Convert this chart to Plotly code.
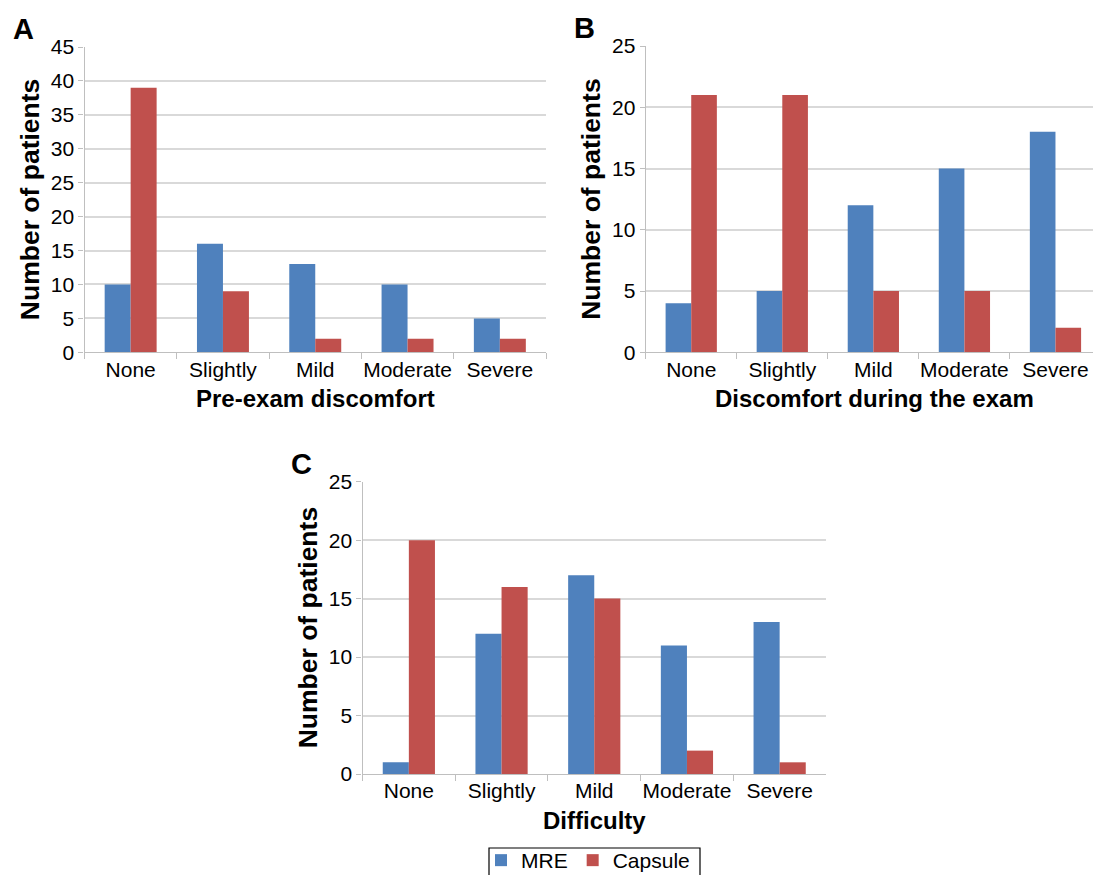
import plotly.graph_objects as go

categories = ["None", "Slightly", "Mild", "Moderate", "Severe"]

a_mre = [10, 16, 13, 10, 5]
a_capsule = [39, 9, 2, 2, 2]
b_mre = [4, 5, 12, 15, 18]
b_capsule = [21, 21, 5, 5, 2]
c_mre = [1, 12, 17, 11, 13]
c_capsule = [20, 16, 15, 2, 1]

x_titles = ["Pre-exam discomfort", "Discomfort during the exam", "Difficulty"]
y_title = "Number of patients"
panel_letters = ["A", "B", "C"]
y_max = [45, 25, 25]

BLUE = "#4F81BD"
RED = "#C0504D"
FONT = "Liberation Sans, Arial, sans-serif"
OFF = 8  # page body margin
W, H = 1101 - OFF, 875 - OFF

# panel plot-area boxes in page pixels: (left, right, top, bottom)
boxes = [(84.5, 546, 47, 352.3), (645.7, 1101, 46, 352.3), (362.5, 826, 481.7, 774)]


def px(x):
    return (x - OFF) / W


def py(y):
    return 1 - (y - OFF) / H


fig = go.Figure()
data = [(a_mre, a_capsule), (b_mre, b_capsule), (c_mre, c_capsule)]
for i, (mre, cap) in enumerate(data):
    xa = "x" if i == 0 else f"x{i+1}"
    ya = "y" if i == 0 else f"y{i+1}"
    fig.add_trace(go.Bar(x=categories, y=mre, name="MRE", marker_color=BLUE,
                         xaxis=xa, yaxis=ya, showlegend=(i == 0)))
    fig.add_trace(go.Bar(x=categories, y=cap, name="Capsule", marker_color=RED,
                         xaxis=xa, yaxis=ya, showlegend=(i == 0)))

layout = dict(
    template="none",
    width=W, height=H,
    margin=dict(l=0, r=0, t=0, b=0, autoexpand=False),
    paper_bgcolor="white", plot_bgcolor="white",
    barmode="group", bargap=0.437, bargroupgap=0,
    font=dict(family=FONT, size=21, color="black"),
    legend=dict(orientation="h", x=px(481), xanchor="left", y=py(840), yanchor="top",
                borderwidth=0, font=dict(size=21),
                itemwidth=30, tracegroupgap=0, bgcolor="rgba(0,0,0,0)"),
    shapes=[dict(type="rect", xref="paper", yref="paper",
                 x0=px(489), x1=px(700), y0=py(890), y1=py(848),
                 line=dict(color="black", width=1.2), fillcolor="rgba(0,0,0,0)",
                 layer="above")],
)
annotations = []
for i, (l, r, t, b) in enumerate(boxes):
    sx = "" if i == 0 else str(i + 1)
    layout[f"xaxis{sx}"] = dict(
        domain=[px(l), min(1, px(r))], anchor=f"y{sx}", automargin=False,
        type="category", showline=True, linecolor="#BFBFBF", linewidth=1.3,
        ticks="outside", tickson="boundaries", ticklen=6, tickcolor="#BFBFBF", tickwidth=1.3,
        tickangle=0, showgrid=False, zeroline=False, ticklabelstandoff=-2,
        tickfont=dict(size=21, family=FONT), fixedrange=True,
    )
    layout[f"yaxis{sx}"] = dict(
        domain=[py(b), py(t)], anchor=f"x{sx}", automargin=False,
        range=[0, y_max[i]], dtick=5, showline=True, linecolor="#BFBFBF", linewidth=1.3,
        ticks="outside", ticklen=5, tickcolor="#BFBFBF", tickwidth=1.3,
        showgrid=True, gridcolor="#D9D9D9", gridwidth=1.5, zeroline=False,
        tickfont=dict(size=21, family=FONT), fixedrange=True,
    )
    cx = (l + min(r, 1101)) / 2 if i != 1 else (l + 1104) / 2
    annotations.append(dict(text=f"<b>{x_titles[i]}</b>", x=px(cx), y=py(b + 46),
                            xref="paper", yref="paper", showarrow=False,
                            font=dict(size=24, family=FONT), xanchor="center", yanchor="middle"))
    annotations.append(dict(text=f"<b>{y_title}</b>", x=px(l - 55), y=py((t + b) / 2),
                            xref="paper", yref="paper", showarrow=False, textangle=-90,
                            font=dict(size=26.5, family=FONT), xanchor="center", yanchor="middle"))
    annotations.append(dict(text=f"<b>{panel_letters[i]}</b>", x=px(l - 61), y=py(t - 18),
                            xref="paper", yref="paper", showarrow=False,
                            font=dict(size=29, family=FONT), xanchor="center", yanchor="middle"))
layout["annotations"] = annotations
fig.update_layout(**layout)

fig.write_html("out.html")
